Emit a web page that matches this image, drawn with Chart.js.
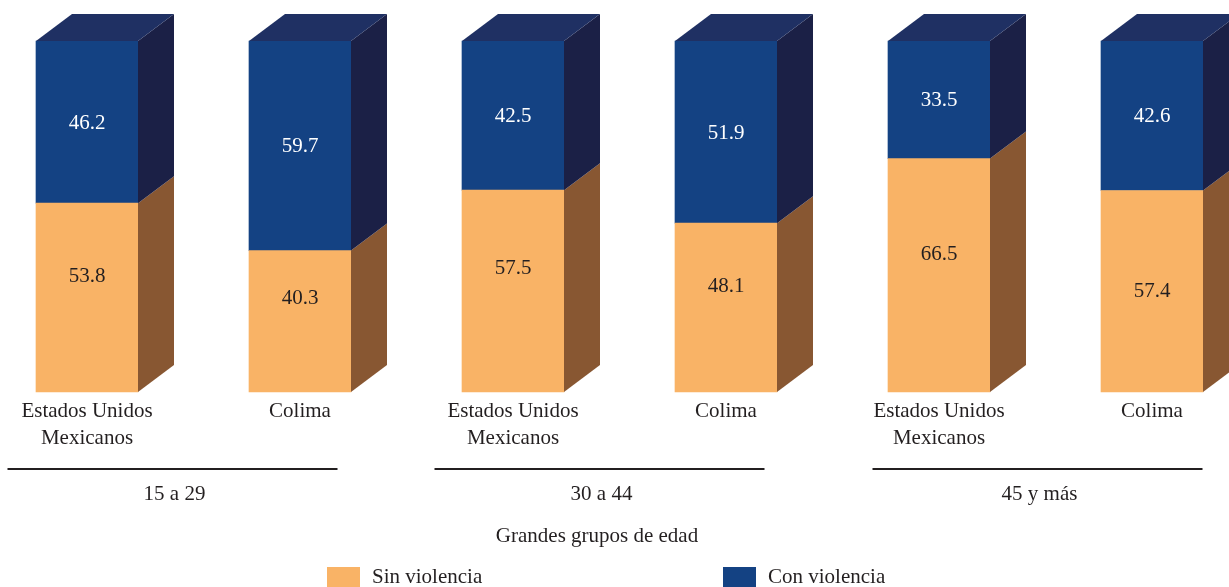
<!DOCTYPE html>
<html>
<head>
<meta charset="utf-8">
<script src="https://cdn.jsdelivr.net/npm/chart.js@4/dist/chart.umd.min.js"></script>
<style>
  body { margin: 0; background: #fff; }
  #wrap { width: 1229px; height: 587px; }
</style>
</head>
<body>
<div id="wrap"><canvas id="grafica" width="1229" height="587"></canvas></div>
<script>
// datos
const categorias = [['Estados Unidos', 'Mexicanos'], ['Colima'], ['Estados Unidos', 'Mexicanos'], ['Colima'], ['Estados Unidos', 'Mexicanos'], ['Colima']];
const grupos = ['15 a 29', '30 a 44', '45 y más'];
const sinViolencia = [53.8, 40.3, 57.5, 48.1, 66.5, 57.4];
const conViolencia = [46.2, 59.7, 42.5, 51.9, 33.5, 42.6];
const series = ['Sin violencia', 'Con violencia'];
const tituloEje = 'Grandes grupos de edad';

const frente = ['#F9B366', '#144283'];
const lado = ['#885732', '#1B2046'];
const tapa = '#1F3063';
const texto = '#231F20';
const fuente = '21px "Liberation Serif", "Times New Roman", serif';
const DX = 36, DY = 27;
// ajustes de posicion (estilo)
const desfaseSin = [-21, -23, -23, -21, -21, 0];
const desfaseLinea = [-21, -20, -8];

const cubos = {
  id: 'cubos',
  afterDatasetsDraw(chart) {
    const ctx = chart.ctx;
    ctx.save();
    chart.data.datasets.forEach((ds, di) => {
      const meta = chart.getDatasetMeta(di);
      meta.data.forEach((bar) => {
        const l = bar.x - bar.width / 2, r = bar.x + bar.width / 2;
        const top = bar.y, bot = bar.base;
        ctx.beginPath();
        ctx.moveTo(r, bot);
        ctx.lineTo(r + DX, bot - DY);
        ctx.lineTo(r + DX, top - DY);
        ctx.lineTo(r, top);
        ctx.closePath();
        ctx.fillStyle = lado[di];
        ctx.fill();
        if (di === chart.data.datasets.length - 1) {
          ctx.beginPath();
          ctx.moveTo(l, top);
          ctx.lineTo(l + DX, top - DY);
          ctx.lineTo(r + DX, top - DY);
          ctx.lineTo(r, top);
          ctx.closePath();
          ctx.fillStyle = tapa;
          ctx.fill();
        }
      });
    });
    // valores
    ctx.font = fuente;
    ctx.textAlign = 'center';
    ctx.textBaseline = 'middle';
    chart.data.datasets.forEach((ds, di) => {
      const meta = chart.getDatasetMeta(di);
      meta.data.forEach((bar, i) => {
        let y = (bar.y + bar.base) / 2;
        if (di === 0) y += desfaseSin[i];
        else y += 1;
        ctx.fillStyle = di === 0 ? texto : '#ffffff';
        ctx.fillText(ds.data[i].toFixed(1), bar.x, y);
      });
    });
    ctx.restore();
  }
};

const rotulos = {
  id: 'rotulos',
  afterDraw(chart) {
    const ctx = chart.ctx;
    const xs = chart.scales.x;
    ctx.save();
    ctx.font = fuente;
    ctx.fillStyle = texto;
    ctx.textAlign = 'center';
    ctx.textBaseline = 'middle';
    categorias.forEach((lab, i) => {
      const x = xs.getPixelForValue(i);
      lab.forEach((t, k) => ctx.fillText(t, x, 411 + k * 27));
    });
    grupos.forEach((g, j) => {
      const a = xs.getPixelForValue(j * 2), b = xs.getPixelForValue(j * 2 + 1);
      const c = (a + b) / 2 + desfaseLinea[j];
      ctx.fillStyle = texto;
      ctx.fillRect(c - 165, 468, 330, 2);
      ctx.fillText(g, c + 2, 494);
    });
    ctx.fillText(tituloEje, 597, 536);
    // leyenda
    const pos = [327, 723];
    series.forEach((s, k) => {
      ctx.fillStyle = frente[k];
      ctx.fillRect(pos[k], 567, 33, 22);
      ctx.fillStyle = texto;
      ctx.textAlign = 'left';
      ctx.fillText(s, pos[k] + 45, 577);
    });
    ctx.restore();
  }
};

new Chart(document.getElementById('grafica'), {
  type: 'bar',
  data: {
    labels: categorias,
    datasets: [
      { label: series[0], data: sinViolencia, backgroundColor: frente[0], borderWidth: 0, barThickness: 102, clip: false },
      { label: series[1], data: conViolencia, backgroundColor: frente[1], borderWidth: 0, barThickness: 102, clip: false }
    ]
  },
  options: {
    responsive: false,
    devicePixelRatio: 1,
    animation: false,
    layout: { padding: { top: 41, bottom: 195, left: 87, right: 77 } },
    scales: {
      x: { stacked: true, offset: false, display: false },
      y: { stacked: true, min: 0, max: 100, display: false }
    },
    plugins: { legend: { display: false }, tooltip: { enabled: false } }
  },
  plugins: [cubos, rotulos]
});
</script>
</body>
</html>
